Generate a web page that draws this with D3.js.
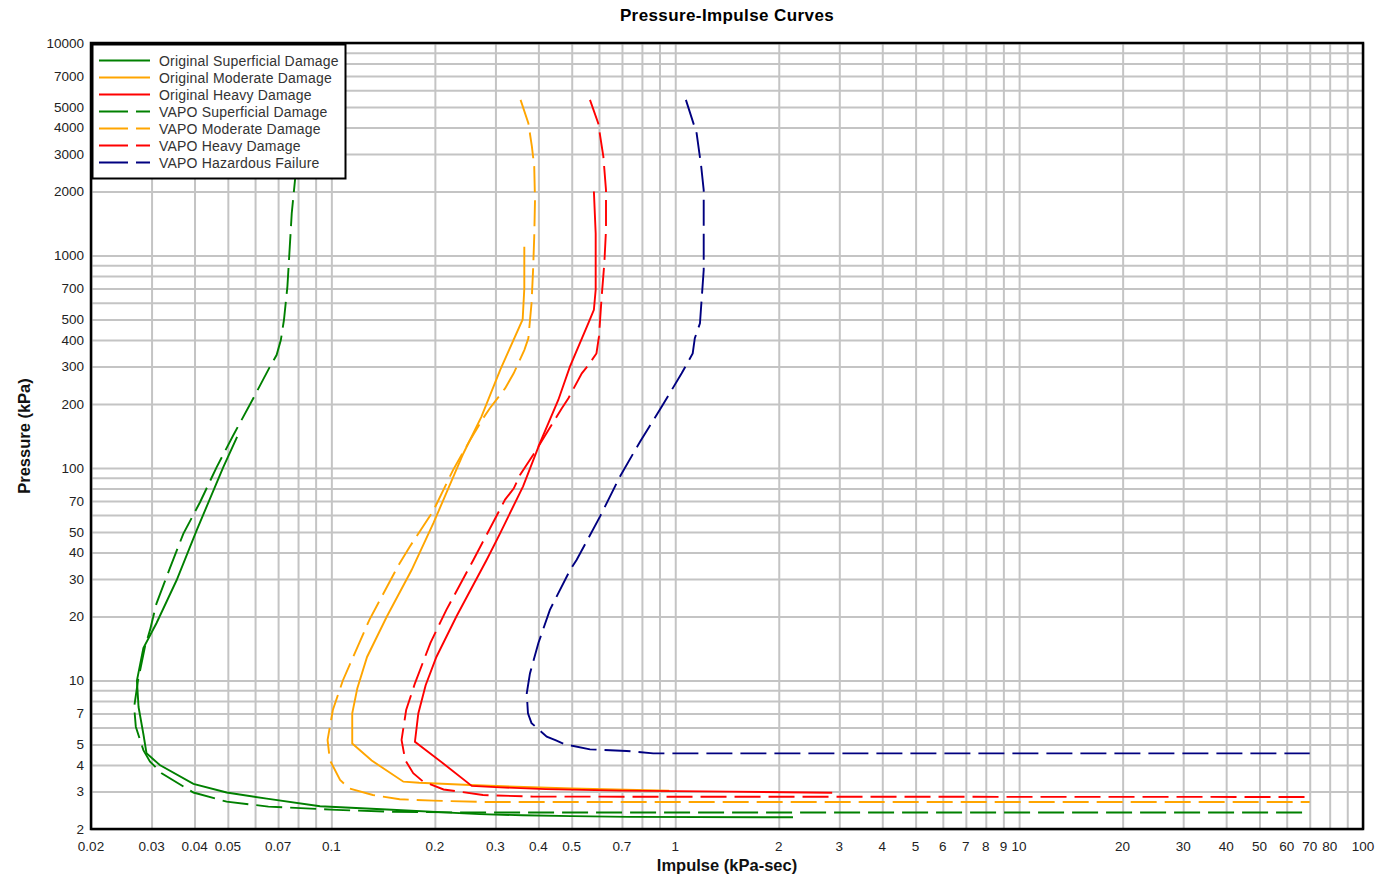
<!DOCTYPE html>
<html>
  <head>
    <meta charset="utf-8">
    <title>Pressure-Impulse Curves</title>
    <script src="https://cdn.jsdelivr.net/npm/d3@7/dist/d3.min.js"></script>
    <style>
      body { margin: 0; background: #fff; }
      svg { font-family: "Liberation Sans", Arial, sans-serif; }
      .grid line { stroke: #c4c4c4; stroke-width: 2; }
      .grid .domain { display: none; }
      .tickLabel { font-size: 13.5px; fill: #222; }
      .axisTitle { font-size: 16.5px; font-weight: bold; fill: #111; }
      .legendText { font-size: 14px; fill: #333; letter-spacing: 0.2px; }
    </style>
  </head>

  <body>
    <svg id="chart" width="1377" height="879"></svg>

    <script>
      // tick labels (gridlines sit on every 1..9 step of each decade)
      xTickLabels = [0.02, 0.03, 0.04, 0.05, 0.07, 0.1, 0.2, 0.3, 0.4, 0.5, 0.7,
        1, 2, 3, 4, 5, 6, 7, 8, 9, 10, 20, 30, 40, 50, 60, 70, 80, 100];
      yTickLabels = [2, 3, 4, 5, 7, 10, 20, 30, 40, 50, 70, 100, 200, 300, 400, 500,
        700, 1000, 2000, 3000, 4000, 5000, 7000, 10000];

      // curves: [impulse kPa-sec, pressure kPa]
      origSuperficial = [[0.0532, 140], [0.0485, 101], [0.0406, 51], [0.0355, 29.7],
        [0.031, 18.6], [0.0284, 14.2], [0.0272, 10], [0.0275, 7.5], [0.0284, 5.6],
        [0.029, 4.55], [0.0317, 4.0], [0.0397, 3.26], [0.0496, 2.97], [0.0649, 2.78],
        [0.0927, 2.56], [0.145, 2.47], [0.27, 2.35], [0.36, 2.32], [0.5, 2.3],
        [0.73, 2.28], [2.2, 2.27]];
      origModerate = [[0.364, 1100], [0.364, 700], [0.36, 500], [0.31, 290],
        [0.273, 174], [0.242, 117], [0.198, 55], [0.171, 33], [0.145, 20],
        [0.127, 12.9], [0.119, 9.2], [0.115, 7], [0.115, 5.05], [0.131, 4.2],
        [0.162, 3.34], [0.18, 3.3], [0.253, 3.22], [0.5, 3.1], [0.96, 3.03]];
      origHeavy = [[0.58, 2000], [0.587, 1270], [0.587, 690], [0.58, 555],
        [0.559, 480], [0.494, 300], [0.457, 209], [0.404, 131], [0.361, 82],
        [0.309, 49], [0.283, 37], [0.231, 20], [0.202, 12.9], [0.188, 9.5],
        [0.179, 7], [0.175, 5.15], [0.212, 4.06], [0.256, 3.19], [0.31, 3.14],
        [0.42, 3.08], [0.69, 3.03], [1.44, 3.0], [2.86, 2.96]];
      vapoSuperficial = [[0.073, 5400], [0.077, 4200], [0.079, 3000], [0.0784, 2265],
        [0.0767, 1580], [0.0755, 1024], [0.0745, 713], [0.0728, 497], [0.0713, 400],
        [0.0693, 340], [0.0663, 300], [0.0593, 213], [0.0519, 143], [0.0464, 101],
        [0.0415, 69], [0.0371, 49], [0.0339, 33.7], [0.031, 23], [0.0297, 17.3],
        [0.0287, 14.4], [0.0274, 10], [0.0267, 7.5], [0.027, 6.06], [0.0284, 4.7],
        [0.0297, 4.15], [0.0321, 3.66], [0.0397, 2.97], [0.0496, 2.69], [0.0656, 2.55],
        [0.1036, 2.46], [0.151, 2.41], [0.25, 2.39], [70, 2.39]];
      vapoModerate = [[0.355, 5400], [0.374, 4190], [0.383, 3250], [0.389, 2618],
        [0.391, 1823], [0.389, 1225], [0.386, 855], [0.382, 595], [0.374, 408],
        [0.364, 359], [0.339, 279], [0.32, 237], [0.289, 191], [0.276, 171],
        [0.253, 135], [0.226, 98], [0.198, 63], [0.169, 42.6], [0.157, 35],
        [0.129, 19.3], [0.108, 10], [0.101, 7.26], [0.0975, 5.25], [0.099, 4.22],
        [0.106, 3.4], [0.113, 3.1], [0.132, 2.89], [0.158, 2.76], [0.198, 2.72],
        [0.276, 2.68], [70, 2.68]];
      vapoHeavy = [[0.565, 5400], [0.597, 4190], [0.618, 2917], [0.629, 2032],
        [0.629, 1318], [0.622, 919], [0.611, 640], [0.6, 415], [0.59, 346],
        [0.559, 305], [0.535, 279], [0.489, 213], [0.468, 191], [0.386, 115],
        [0.354, 93], [0.339, 80], [0.32, 71], [0.259, 37], [0.216, 21.5],
        [0.194, 15], [0.175, 9.7], [0.165, 7.26], [0.16, 5.25], [0.164, 4.22],
        [0.173, 3.66], [0.185, 3.34], [0.212, 3.07], [0.276, 2.89], [0.386, 2.84],
        [70, 2.83]];
      vapoHazardous = [[1.074, 5400], [1.154, 3758], [1.19, 2618], [1.21, 2032],
        [1.21, 855], [1.18, 480], [1.14, 408], [1.124, 346], [1.044, 279],
        [0.913, 194], [0.79, 133], [0.69, 91], [0.604, 59], [0.517, 37],
        [0.494, 33], [0.432, 21.5], [0.4, 15], [0.378, 10.8], [0.37, 8.7],
        [0.373, 7.0], [0.382, 6.3], [0.423, 5.44], [0.45, 5.22], [0.478, 5.01],
        [0.565, 4.74], [0.722, 4.66], [0.863, 4.54], [70, 4.54]];

      seriesNames = ["Original Superficial Damage", "Original Moderate Damage",
        "Original Heavy Damage", "VAPO Superficial Damage", "VAPO Moderate Damage",
        "VAPO Heavy Damage", "VAPO Hazardous Failure"];
      seriesData = [origSuperficial, origModerate, origHeavy, vapoSuperficial,
        vapoModerate, vapoHeavy, vapoHazardous];
      seriesColours = ["#008000", "#ffa500", "#ff0000", "#008000", "#ffa500",
        "#ff0000", "#000080"];
      seriesDashed = [false, false, false, true, true, true, true];

      // layout
      margin = { top: 43, right: 14, bottom: 50, left: 91 };
      width = 1377;
      height = 879;
      chart = d3.select("#chart");

      x = d3.scaleLog()
        .domain([0.02, 100])
        .range([margin.left, width - margin.right]);
      y = d3.scaleLog()
        .domain([2, 10000])
        .range([height - margin.bottom, margin.top]);

      // every 1..9 step between two bounds
      function logSteps(lo, hi) {
        var out = [];
        for (var e = Math.floor(Math.log10(lo)); e <= Math.ceil(Math.log10(hi)); e++) {
          for (var m = 1; m < 10; m++) {
            var v = +(m * Math.pow(10, e)).toPrecision(6);
            if (v >= lo - 1e-9 && v <= hi + 1e-9) out.push(v);
          }
        }
        return out;
      }
      xGrid = logSteps(0.02, 100);
      yGrid = logSteps(2, 10000);

      // gridlines
      chart.append("g")
        .attr("class", "grid")
        .attr("transform", "translate(0," + (height - margin.bottom) + ")")
        .call(d3.axisBottom(x)
          .tickValues(xGrid)
          .tickFormat("")
          .tickSizeOuter(0)
          .tickSizeInner(margin.top + margin.bottom - height));
      chart.append("g")
        .attr("class", "grid")
        .attr("transform", "translate(" + margin.left + ",0)")
        .call(d3.axisLeft(y)
          .tickValues(yGrid)
          .tickFormat("")
          .tickSizeOuter(0)
          .tickSizeInner(margin.left + margin.right - width));

      // tick labels
      chart.append("g")
        .selectAll("text")
        .data(xTickLabels)
        .join("text")
          .attr("class", "tickLabel")
          .attr("x", function(d) { return x(d); })
          .attr("y", height - margin.bottom + 22)
          .attr("text-anchor", "middle")
          .text(function(d) { return d; });
      chart.append("g")
        .selectAll("text")
        .data(yTickLabels)
        .join("text")
          .attr("class", "tickLabel")
          .attr("x", margin.left - 7)
          .attr("y", function(d) { return y(d); })
          .attr("dy", "0.36em")
          .attr("text-anchor", "end")
          .text(function(d) { return d; });

      // curves
      chart.append("clipPath")
        .attr("id", "plotClip")
        .append("rect")
          .attr("x", margin.left)
          .attr("y", margin.top)
          .attr("width", width - margin.left - margin.right)
          .attr("height", height - margin.top - margin.bottom);
      line = d3.line()
        .x(function(d) { return x(d[0]); })
        .y(function(d) { return y(d[1]); });
      chart.append("g")
        .attr("clip-path", "url(#plotClip)")
        .selectAll("path")
        .data(seriesData)
        .join("path")
          .attr("d", line)
          .attr("fill", "none")
          .attr("stroke", function(d, i) { return seriesColours[i]; })
          .attr("stroke-width", 1.9)
          .attr("stroke-dasharray", function(d, i) { return seriesDashed[i] ? "26,8" : null; });

      // plot frame
      chart.append("rect")
        .attr("x", margin.left)
        .attr("y", margin.top)
        .attr("width", width - margin.left - margin.right)
        .attr("height", height - margin.top - margin.bottom)
        .attr("fill", "none")
        .attr("stroke", "#000")
        .attr("stroke-width", 2.5);

      // legend
      legend = chart.append("g")
        .attr("transform", "translate(" + margin.left + "," + margin.top + ")");
      legend.append("rect")
        .attr("x", 1.5)
        .attr("y", 1.5)
        .attr("width", 253)
        .attr("height", 134)
        .attr("fill", "#fff")
        .attr("stroke", "#000")
        .attr("stroke-width", 2);
      rows = legend.selectAll(".row")
        .data(seriesNames)
        .join("g")
          .attr("class", "row")
          .attr("transform", function(d, i) { return "translate(0," + (17.5 + i * 17) + ")"; });
      rows.append("line")
        .attr("x1", 8)
        .attr("x2", 59)
        .attr("stroke", function(d, i) { return seriesColours[i]; })
        .attr("stroke-width", 1.8)
        .attr("stroke-dasharray", function(d, i) { return seriesDashed[i] ? "29,8" : null; });
      rows.append("text")
        .attr("class", "legendText")
        .attr("x", 68)
        .attr("dy", "0.36em")
        .text(function(d) { return d; });

      // titles
      chart.append("text")
        .attr("x", (margin.left + width - margin.right) / 2)
        .attr("y", 21)
        .attr("text-anchor", "middle")
        .style("font-size", "17px")
        .style("font-weight", "bold")
        .style("letter-spacing", "0.4px")
        .text("Pressure-Impulse Curves");
      chart.append("text")
        .attr("class", "axisTitle")
        .attr("x", (margin.left + width - margin.right) / 2)
        .attr("y", 871)
        .attr("text-anchor", "middle")
        .text("Impulse (kPa-sec)");
      chart.append("text")
        .attr("class", "axisTitle")
        .attr("transform", "translate(30," + (margin.top + height - margin.bottom) / 2 + ") rotate(-90)")
        .attr("text-anchor", "middle")
        .text("Pressure (kPa)");
    </script>
  </body>
</html>
